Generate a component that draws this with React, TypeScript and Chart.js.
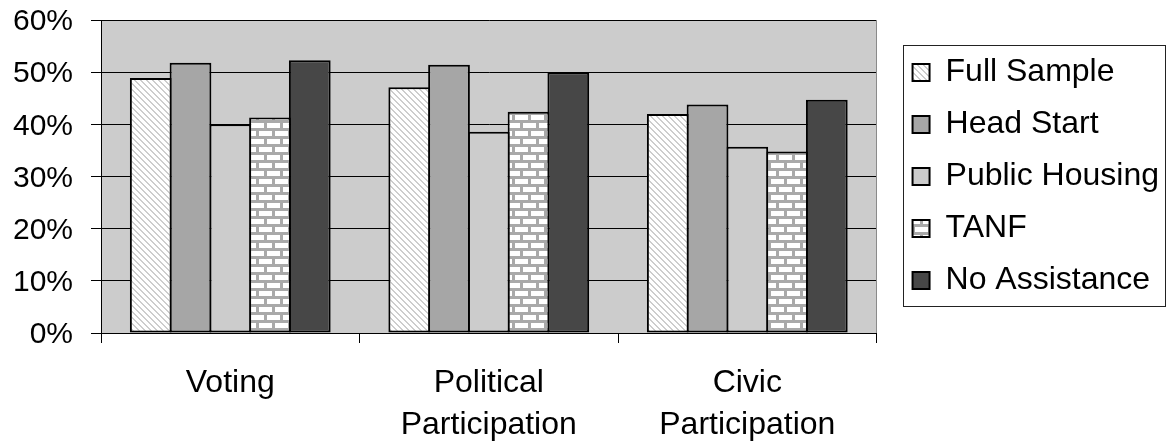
import React, { useEffect, useRef } from 'react';
import { Chart, registerables } from 'chart.js';

Chart.register(...registerables);

const categories: (string | string[])[] = ['Voting', ['Political', 'Participation'], ['Civic', 'Participation']];
const seriesNames = ['Full Sample', 'Head Start', 'Public Housing', 'TANF', 'No Assistance'];
const fullSample = [48.9, 47.1, 42.0];
const headStart = [51.8, 51.4, 43.8];
const publicHousing = [40.0, 38.6, 35.7];
const tanf = [41.3, 42.4, 34.8];
const noAssistance = [52.3, 50.0, 44.7];
const yMin = 0;
const yMax = 60;
const yStep = 10;

const FONT = "'Liberation Sans', Arial, sans-serif";

function makeHatch(ctx: CanvasRenderingContext2D): CanvasPattern {
  const t = document.createElement('canvas');
  t.width = 6;
  t.height = 6;
  const c = t.getContext('2d')!;
  c.fillStyle = '#ffffff';
  c.fillRect(0, 0, 6, 6);
  c.fillStyle = '#cdcdcd';
  for (let i = 0; i < 6; i++) {
    c.fillRect(i, i, 1, 1);
    c.fillRect((i + 1) % 6, i, 1, 1);
  }
  return ctx.createPattern(t, 'repeat')!;
}

function makeBrick(ctx: CanvasRenderingContext2D): CanvasPattern {
  const t = document.createElement('canvas');
  t.width = 16;
  t.height = 16;
  const c = t.getContext('2d')!;
  c.fillStyle = '#ffffff';
  c.fillRect(0, 0, 16, 16);
  c.fillStyle = '#a9a9a9';
  c.fillRect(0, 0, 16, 3);
  c.fillRect(0, 8, 16, 3);
  c.fillRect(0, 3, 3, 5);
  c.fillRect(8, 11, 3, 5);
  return ctx.createPattern(t, 'repeat')!;
}

const plotBgPlugin = {
  id: 'plotBg',
  beforeDraw(chart: any) {
    const { ctx, chartArea } = chart;
    ctx.save();
    ctx.fillStyle = '#cccccc';
    ctx.fillRect(chartArea.left, chartArea.top, chartArea.right - chartArea.left, chartArea.bottom - chartArea.top);
    ctx.restore();
  },
  beforeDatasetsDraw(chart: any) {
    const { ctx, chartArea } = chart;
    ctx.save();
    ctx.strokeStyle = '#8a8a8a';
    ctx.lineWidth = 1;
    const x = Math.round(chartArea.right) - 0.5;
    ctx.beginPath();
    ctx.moveTo(x, chartArea.top);
    ctx.lineTo(x, chartArea.bottom);
    ctx.stroke();
    ctx.restore();
  },
};

const legendBoxPlugin = {
  id: 'legendBox',
  afterDraw(chart: any) {
    const lg = chart.legend;
    if (!lg) return;
    const { ctx, chartArea } = chart;
    const x0 = Math.round(lg.left + 10) + 0.5;
    const x1 = Math.round(lg.right - 3) - 0.5;
    const y0 = Math.round(chartArea.top + 25) + 0.5;
    const y1 = Math.round(chartArea.bottom - 27) + 0.5;
    ctx.save();
    ctx.strokeStyle = '#222222';
    ctx.lineWidth = 1;
    ctx.strokeRect(x0, y0, x1 - x0, y1 - y0);
    ctx.restore();
  },
};

export default function App() {
  const ref = useRef<HTMLCanvasElement>(null);

  useEffect(() => {
    const canvas = ref.current!;
    const ctx = canvas.getContext('2d')!;
    const hatch = makeHatch(ctx);
    const brick = makeBrick(ctx);
    const fills: any[] = [hatch, '#a6a6a6', '#cccccc', brick, '#474747'];
    const values = [fullSample, headStart, publicHousing, tanf, noAssistance];

    const chart = new Chart(ctx, {
      type: 'bar',
      data: {
        labels: categories as any,
        datasets: seriesNames.map((name, i) => ({
          label: name,
          data: values[i],
          backgroundColor: fills[i],
          borderColor: '#000000',
          borderWidth: 2,
          borderSkipped: false,
          categoryPercentage: 0.769,
          barPercentage: 1.05,
        })),
      },
      options: {
        responsive: false,
        animation: false,
        devicePixelRatio: 1,
        layout: { padding: { top: 20, right: 0, bottom: 0, left: 0 } },
        plugins: {
          legend: {
            position: 'right',
            align: 'center',
            fullSize: false,
            maxWidth: 400,
            labels: {
              boxWidth: 17,
              boxHeight: 17,
              padding: 20,
              color: '#000000',
              font: { size: 32, family: FONT },
            },
          },
          tooltip: { enabled: false },
        },
        scales: {
          x: {
            type: 'category',
            offset: true,
            grid: {
              offset: true,
              drawOnChartArea: false,
              drawTicks: true,
              tickLength: 10,
              color: '#000000',
            },
            border: { display: true, color: '#000000', width: 1 },
            ticks: {
              color: '#000000',
              font: { size: 32, family: FONT, lineHeight: 1.33 },
              padding: 18.5,
              maxRotation: 0,
              autoSkip: false,
            },
            afterFit: (s: any) => {
              s.height = 112;
            },
          },
          y: {
            min: yMin,
            max: yMax,
            ticks: {
              stepSize: yStep,
              callback: (v: any) => `${v}%`,
              color: '#000000',
              font: { size: 30, family: FONT },
              padding: 18,
              labelOffset: 2,
            },
            grid: { color: '#000000', tickLength: 10, drawTicks: true, lineWidth: 1 },
            border: { display: true, color: '#000000', width: 1 },
            afterFit: (s: any) => {
              s.width = 101;
              s.paddingTop = 0;
              s.paddingBottom = 0;
            },
          },
          y2: {
            position: 'right',
            display: true,
            grid: { display: false },
            border: { display: false },
            ticks: { display: false },
            afterFit: (s: any) => {
              s.width = 16;
              s.paddingTop = 0;
              s.paddingBottom = 0;
            },
          },
        },
      } as any,
      plugins: [plotBgPlugin, legendBoxPlugin],
    });

    return () => chart.destroy();
  }, []);

  return (
    <div style={{ position: 'absolute', left: 0, top: 0, width: 1169, height: 445, background: '#ffffff' }}>
      <canvas ref={ref} width={1169} height={445} style={{ display: 'block', width: 1169, height: 445 }} />
    </div>
  );
}
